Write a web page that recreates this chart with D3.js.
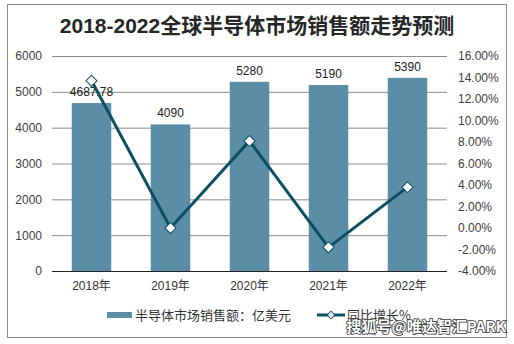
<!DOCTYPE html>
<html><head><meta charset="utf-8">
<script src="https://cdn.jsdelivr.net/npm/d3@7"></script>
<style>
html,body{margin:0;padding:0;background:#fff;}
svg{display:block;font-family:Arial,"Liberation Sans","Noto Sans CJK SC",sans-serif;}
</style></head>
<body>
<svg id="chart" width="514" height="344"></svg>
<script>
const categories = ["2018年","2019年","2020年","2021年","2022年"];
const salesValues = [4687.78, 4090, 5280, 5190, 5390];
const salesLabels = ["4687.78","4090","5280","5190","5390"];
const growthValues = [13.7, 0.0, 8.1, -1.8, 3.8];
const leftTicks = [0,1000,2000,3000,4000,5000,6000];
const rightTicks = [-4,-2,0,2,4,6,8,10,12,14,16];
const titleText = "2018-2022全球半导体市场销售额走势预测";
const legendBar = "半导体市场销售额：亿美元";
const legendLine = "同比增长%";
const watermark = "搜狐号@唯达智汇PARK";

(function(){
const svg = d3.select("#chart");
const barColor = "#5b8ea6", lineColor = "#0b4f62";

svg.append("rect").attr("x",7.5).attr("y",4.5).attr("width",499).attr("height",333)
  .attr("fill","#fff").attr("stroke","#8a8a8a").attr("stroke-width",1);

svg.append("text").attr("x",257).attr("y",33).attr("text-anchor","middle")
  .attr("font-size",21).attr("font-weight","bold").attr("fill","#262626")
  .attr("font-family","Arial,'Noto Sans CJK SC',sans-serif").text(titleText);

const pl = 52, pr = 447, pt = 56, pb = 271;
const x = d3.scaleBand().domain(categories).range([pl,pr]).paddingInner(0.5).paddingOuter(0.25);
const y = d3.scaleLinear().domain([0,6000]).range([pb,pt]);
const y2 = d3.scaleLinear().domain([-4,16]).range([pb,pt]);

svg.append("g").selectAll("line").data(leftTicks.filter(d=>d>0)).join("line")
  .attr("x1",pl).attr("x2",pr).attr("y1",d=>y(d)+0.5).attr("y2",d=>y(d)+0.5)
  .attr("stroke","#8c8c8c").attr("stroke-width",1);

const la = svg.append("g").attr("transform",`translate(${pl},0)`)
  .call(d3.axisLeft(y).tickValues(leftTicks).tickSize(0).tickPadding(10).tickFormat(d3.format("d")));
la.select(".domain").remove();
la.selectAll("text").attr("font-size",12).attr("fill","#404040").attr("font-family","Arial,sans-serif");

const ra = svg.append("g").attr("transform",`translate(${pr},0)`)
  .call(d3.axisRight(y2).tickValues(rightTicks).tickSize(0).tickPadding(11).tickFormat(d=>d.toFixed(2)+"%"));
ra.select(".domain").remove();
ra.selectAll("text").attr("font-size",12).attr("fill","#404040").attr("font-family","Arial,sans-serif");

svg.append("g").selectAll("rect").data(salesValues).join("rect")
  .attr("x",(d,i)=>x(categories[i])).attr("width",x.bandwidth())
  .attr("y",d=>y(d)).attr("height",d=>pb-y(d)).attr("fill",barColor);

svg.append("line").attr("x1",pl).attr("x2",pr).attr("y1",pb+0.5).attr("y2",pb+0.5)
  .attr("stroke","#222").attr("stroke-width",1.2);

const xa = svg.append("g").attr("transform",`translate(0,${pb})`)
  .call(d3.axisBottom(x).tickSize(0).tickPadding(10));
xa.select(".domain").remove();
xa.selectAll("text").attr("font-size",12).attr("fill","#333").attr("font-family","Arial,'Noto Sans CJK SC',sans-serif");

svg.append("g").selectAll("text").data(salesValues).join("text")
  .attr("x",(d,i)=>x(categories[i])+x.bandwidth()/2).attr("y",d=>y(d)-7)
  .attr("text-anchor","middle").attr("font-size",12).attr("fill","#222").text((d,i)=>salesLabels[i]);

const line = d3.line().x((d,i)=>x(categories[i])+x.bandwidth()/2).y(d=>y2(d));
svg.append("path").datum(growthValues).attr("d",line).attr("fill","none")
  .attr("stroke",lineColor).attr("stroke-width",3);
svg.append("g").selectAll("path").data(growthValues).join("path")
  .attr("d",d3.symbol().type(d3.symbolSquare).size(60))
  .attr("transform",(d,i)=>`translate(${x(categories[i])+x.bandwidth()/2},${y2(d)}) rotate(45)`)
  .attr("fill","#fff").attr("stroke",lineColor).attr("stroke-width",1);

svg.append("rect").attr("x",107).attr("y",312).attr("width",25).attr("height",6).attr("fill",barColor);
svg.append("text").attr("x",135).attr("y",320).attr("font-size",13).attr("fill","#333")
  .attr("font-family","'Noto Sans CJK SC',sans-serif").text(legendBar);
svg.append("line").attr("x1",317).attr("x2",345).attr("y1",315).attr("y2",315).attr("stroke",lineColor).attr("stroke-width",3);
svg.append("path").attr("d",d3.symbol().type(d3.symbolSquare).size(30)())
  .attr("transform","translate(331,315) rotate(45)").attr("fill","#fff").attr("stroke",lineColor);
svg.append("text").attr("x",347).attr("y",320).attr("font-size",13).attr("fill","#333")
  .attr("font-family","'Noto Sans CJK SC',sans-serif").text(legendLine);

svg.append("text").attr("x",506).attr("y",332).attr("text-anchor","end").attr("font-size",15)
  .attr("font-weight","bold").attr("fill","#fff").attr("stroke","#333").attr("stroke-width",1.6)
  .attr("paint-order","stroke").attr("font-family","'Noto Sans CJK SC',sans-serif").text(watermark);
})();
</script>
</body></html>
